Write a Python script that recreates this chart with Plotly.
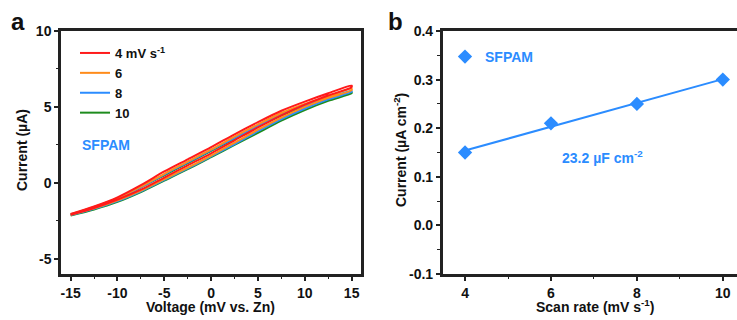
import numpy as np
import plotly.graph_objects as go

# ---------------- data ----------------
voltage = [-15, -12.5, -10, -7.5, -5, -2.5, 0, 2.5, 5, 7.5, 10, 12.5, 15]
scan_labels = ["4 mV s<sup>-1</sup>", "6", "8", "10"]
scan_colors = ["#FF1A1A", "#FF8C1A", "#2B8CFF", "#1E8C1E"]

red_fwd = [-2.05, -1.55, -0.95, -0.15, 0.75, 1.55, 2.35, 3.2, 4.0, 4.75, 5.35, 5.9, 6.4]
red_rev = [-2.1, -1.65, -1.1, -0.45, 0.35, 1.15, 1.95, 2.8, 3.65, 4.45, 5.15, 5.75, 6.3]
orange_fwd = [-2.07, -1.58, -1.0, -0.25, 0.6, 1.4, 2.2, 3.05, 3.85, 4.6, 5.2, 5.7, 6.2]
orange_rev = [-2.1, -1.68, -1.15, -0.5, 0.25, 1.0, 1.8, 2.65, 3.5, 4.3, 5.0, 5.6, 6.1]
blue_fwd = [-2.08, -1.6, -1.03, -0.3, 0.55, 1.35, 2.15, 2.95, 3.75, 4.5, 5.1, 5.6, 6.05]
blue_rev = [-2.12, -1.7, -1.2, -0.55, 0.2, 0.95, 1.75, 2.55, 3.4, 4.2, 4.9, 5.5, 6.0]
green_fwd = [-2.1, -1.62, -1.05, -0.3, 0.5, 1.3, 2.1, 2.9, 3.7, 4.45, 5.05, 5.5, 5.95]
green_rev = [-2.15, -1.75, -1.25, -0.6, 0.15, 0.9, 1.7, 2.5, 3.3, 4.1, 4.8, 5.4, 5.9]

scan_rate = [4, 6, 8, 10]
cap_current = [0.15, 0.21, 0.25, 0.30]

a_xticks = [-15, -10, -5, 0, 5, 10, 15]
a_yticks = [-5, 0, 5, 10]
b_xticks = [4, 6, 8, 10]
b_yticks = [-0.1, 0.0, 0.1, 0.2, 0.3, 0.4]

# ---------------- figure ----------------
FONT = "Liberation Sans, Arial, sans-serif"
AX = "#222222"
BLUE = "#2B8CFF"
W, H = 737, 320

YDOM = [1 - 274/H, 1 - 31/H]
AXD = [61/W, 361/W]
BXD = [442.7/W, 1.0]
AXR, AYR = [-16.03, 16.0], [-6, 10]
BXR, BYR = [3.48, 10.33], [-0.1, 0.4]

fig = go.Figure()

loops = [(red_fwd, red_rev), (orange_fwd, orange_rev), (blue_fwd, blue_rev), (green_fwd, green_rev)]
order = [3, 2, 1, 0]  # draw green first, red on top
for i in order:
    fwd, rev = loops[i]
    xs = list(voltage) + list(voltage[::-1])
    ys = list(fwd) + list(rev[::-1])
    fig.add_trace(go.Scatter(
        x=xs, y=ys, mode="lines", name=scan_labels[i],
        line=dict(color=scan_colors[i], width=2, shape="spline", smoothing=0.8),
        legendrank=i + 1, xaxis="x", yaxis="y", legend="legend"))

# panel b
coef = np.polyfit(scan_rate, cap_current, 1)
fit_x = [scan_rate[0], scan_rate[-1]]
fit_y = [coef[0] * v + coef[1] for v in fit_x]
fig.add_trace(go.Scatter(x=fit_x, y=fit_y, mode="lines", showlegend=False,
                         line=dict(color=BLUE, width=2), xaxis="x2", yaxis="y2"))
fig.add_trace(go.Scatter(x=scan_rate, y=cap_current, mode="markers", name="SFPAM",
                         marker=dict(symbol="diamond", size=11, color=BLUE),
                         xaxis="x2", yaxis="y2", legend="legend2"))


def axis(domain, rng, tickvals, ticktext, anchor, mirror, minor_dtick):
    return dict(domain=domain, range=rng, anchor=anchor, mirror=mirror, automargin=False,
                showline=True, linecolor=AX, linewidth=2.5, layer="above traces",
                ticks="outside", ticklen=4, tickwidth=1.5, tickcolor=AX,
                showgrid=False, zeroline=False,
                tickmode="array", tickvals=tickvals, ticktext=ticktext,
                tickfont=dict(family=FONT, size=14, color="#111", weight="bold"),
                minor=dict(tickmode="linear", tick0=0, dtick=minor_dtick, ticks="outside",
                           ticklen=2.5, tickwidth=1.2, tickcolor=AX, showgrid=False))


fig.update_layout(
    width=W, height=H,
    margin=dict(l=0, r=0, t=0, b=0, pad=0, autoexpand=False),
    paper_bgcolor="white", plot_bgcolor="white",
    font=dict(family=FONT, size=14, color="#111"),
    xaxis=axis(AXD, AXR, a_xticks, [str(v) for v in a_xticks], "y", True, 2.5),
    yaxis=axis(YDOM, AYR, a_yticks, [str(v) for v in a_yticks], "x", True, 2.5),
    xaxis2=axis(BXD, BXR, b_xticks, [str(v) for v in b_xticks], "y2", True, 1),
    yaxis2=axis(YDOM, BYR, b_yticks, [f"{v:.1f}" for v in b_yticks], "x2", False, 0.05),
    legend=dict(x=75/W, y=1 - 38/H, xanchor="left", yanchor="top",
                bgcolor="rgba(0,0,0,0)", borderwidth=0, tracegroupgap=0,
                font=dict(family=FONT, size=13, color="#111", weight="bold")),
    legend2=dict(x=445/W, y=1 - 41/H, xanchor="left", yanchor="top",
                 bgcolor="rgba(0,0,0,0)", borderwidth=0,
                 font=dict(family=FONT, size=14, color=BLUE, weight="bold")),
)

for t, x in (("a", 18), ("b", 395)):
    fig.add_annotation(text=t, x=x/W, y=1 - 22/H, xref="paper", yref="paper",
                       showarrow=False, xanchor="center", yanchor="middle",
                       font=dict(family=FONT, size=24, color="#111", weight="bold"))

titles = [
    ("Voltage (mV vs. Zn)", 211/W, 1 - 307/H, 0),
    ("Current (µA)", 22/W, 1 - 150/H, -90),
    ("Scan rate (mV s<sup>-1</sup>)", 595/W, 1 - 306/H, 0),
    ("Current (µA cm<sup>-2</sup>)", 400/W, 1 - 150/H, -90),
]
for t, x, y, ang in titles:
    fig.add_annotation(text=t, x=x, y=y, xref="paper", yref="paper", showarrow=False,
                       xanchor="center", yanchor="middle", textangle=ang,
                       font=dict(family=FONT, size=14, color="#111", weight="bold"))

fig.add_annotation(text="SFPAM", x=80/W, y=1 - 145/H, xref="paper", yref="paper",
                   showarrow=False, xanchor="left", yanchor="middle",
                   font=dict(family=FONT, size=14, color=BLUE, weight="bold"))
fig.add_annotation(text="23.2 µF cm<sup>-2</sup>", x=602/W, y=1 - 157/H, xref="paper", yref="paper",
                   showarrow=False, xanchor="center", yanchor="middle",
                   font=dict(family=FONT, size=14, color=BLUE, weight="bold"))

fig.write_html("out.html")
